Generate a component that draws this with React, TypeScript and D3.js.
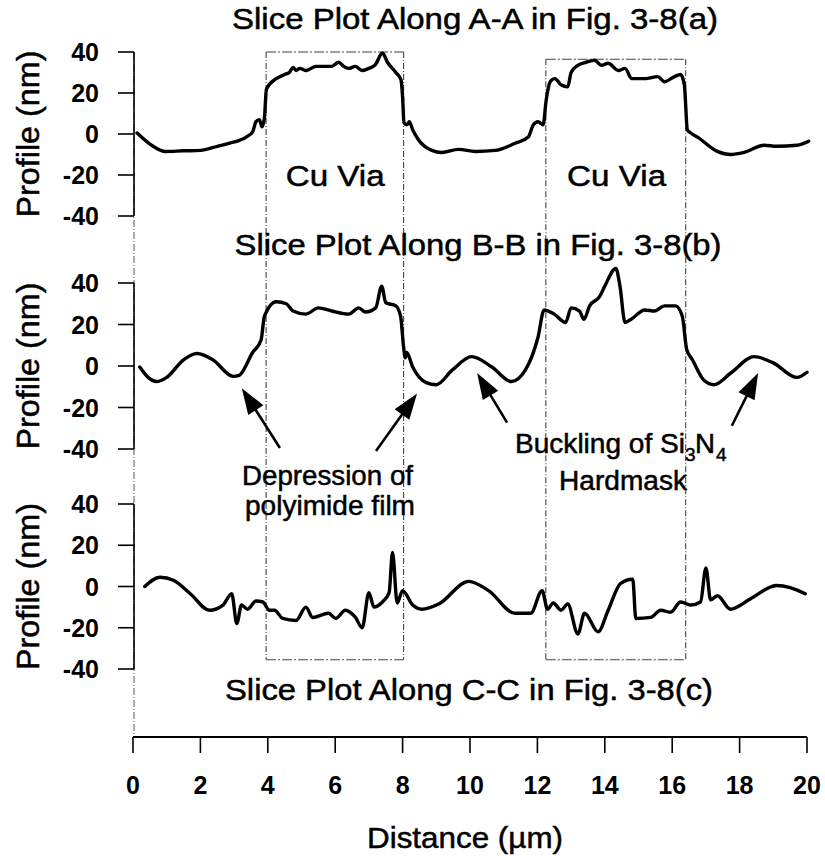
import * as d3 from "d3";

// x in µm, y in nm
const profileA: [number, number][] = [
  [0.12, 0.5], [0.6, -6], [0.95, -8.5], [1.5, -8.2], [2.0, -8], [2.5, -6], [2.87, -4.5], [3.36, -1.5],
  [3.55, 1], [3.65, 6], [3.75, 7], [3.83, 3.5], [3.9, 8], [3.96, 22], [4.25, 27], [4.5, 29], [4.64, 30],
  [4.75, 32.5], [4.84, 31], [4.95, 32], [5.14, 31], [5.43, 33], [5.9, 33], [6.1, 35], [6.25, 33],
  [6.4, 32], [6.6, 33], [6.8, 31], [7.0, 32], [7.2, 34], [7.4, 39.5], [7.55, 35], [7.8, 30],
  [7.95, 26.5], [8.0, 18], [8.04, 5.5], [8.13, 4.5], [8.2, 6], [8.3, 2], [8.48, -3], [8.87, -8],
  [9.16, -9], [9.66, -7.5], [10.16, -8.5], [10.75, -8], [11.34, -4.5], [11.73, -1.5], [11.88, 4.5],
  [12.02, 6], [12.17, 4.5], [12.26, 16.5], [12.38, 25.5], [12.52, 27], [12.7, 24], [12.9, 23],
  [13.0, 30], [13.2, 33.5], [13.45, 35], [13.7, 36], [13.9, 33.5], [14.1, 34.5], [14.4, 31],
  [14.6, 32], [14.8, 27], [15.2, 27], [15.57, 28], [15.77, 25.5], [16.07, 28], [16.25, 29],
  [16.36, 24], [16.45, 2], [16.55, 0.5], [16.75, -1.5], [17.34, -8.5], [17.73, -10], [18.13, -9],
  [18.73, -5.5], [19.1, -6], [19.7, -5.5], [20.05, -3.5],
];

const profileB: [number, number][] = [
  [0.2, -0.5], [0.45, -5.5], [0.7, -7.5], [1.0, -5.5], [1.5, 3], [1.9, 6], [2.37, 3], [2.97, -5],
  [3.15, -4.5], [3.55, 6.5], [3.8, 12.5], [3.9, 24], [4.25, 31], [4.55, 30], [4.75, 26.5], [5.13, 25],
  [5.5, 28], [5.9, 26.5], [6.4, 25], [6.7, 28], [6.9, 26], [7.2, 28], [7.38, 38.5], [7.5, 30.5],
  [7.8, 29], [7.94, 24], [8.03, 9], [8.08, 4], [8.12, 6.5], [8.3, -0.5], [8.7, -8], [9.0, -9],
  [9.47, -2], [10.05, 4.5], [10.65, -0.5], [11.23, -7.5], [11.64, -2], [12.02, 14], [12.2, 27],
  [12.5, 25], [12.84, 21], [13.0, 28], [13.25, 26.5], [13.38, 22.5], [13.55, 29], [13.85, 33.5],
  [14.0, 38.5], [14.33, 47], [14.45, 38.5], [14.6, 21], [14.78, 22.5], [15.18, 27], [15.48, 26.5],
  [15.77, 29], [16.1, 29], [16.3, 24], [16.43, 8], [16.6, 3], [16.95, -7], [17.24, -9], [17.73, -3.5],
  [18.43, 4.5], [19.0, 1.5], [19.7, -5.5], [20.0, -3],
];

const profileC: [number, number][] = [
  [0.35, 0], [0.8, 4.5], [1.2, 3], [1.7, -3.5], [2.27, -11.5], [2.67, -9], [2.93, -3.5], [3.08, -18],
  [3.22, -9], [3.4, -11], [3.65, -7], [3.85, -7.5], [4.05, -11.5], [4.2, -11.5], [4.44, -15.5],
  [4.84, -16.5], [5.13, -10], [5.33, -15], [5.8, -13], [6.02, -15.5], [6.3, -11.5], [6.6, -15],
  [6.8, -20], [7.0, -3], [7.15, -10], [7.4, -7.5], [7.6, -3], [7.7, 16.5], [7.84, -8], [8.0, -2],
  [8.3, -9], [8.57, -11], [9.07, -8.5], [9.96, 2.5], [10.55, -2], [11.34, -13], [11.8, -13],
  [12.14, -2], [12.3, -11], [12.47, -8], [12.7, -11.5], [12.9, -8.5], [13.2, -23], [13.4, -13],
  [13.8, -22], [14.1, -11.5], [14.47, 1.5], [14.83, 3.5], [14.92, -15.5], [15.36, -15], [15.66, -11.5],
  [15.95, -12.5], [16.25, -7.5], [16.55, -9], [16.84, -7.5], [17.0, 9], [17.14, -6.5], [17.34, -4.5],
  [17.73, -11], [18.32, -6], [19.1, 0.5], [19.5, -0.5], [19.95, -3.5],
];

const panelTitles = [
  "Slice Plot Along A-A in Fig. 3-8(a)",
  "Slice Plot Along B-B in Fig. 3-8(b)",
  "Slice Plot Along C-C in Fig. 3-8(c)",
];

const yTicks = [40, 20, 0, -20, -40];
const yTickLabels = ["40", "20", "0", "-20", "-40"];
const xTicks = [0, 2, 4, 6, 8, 10, 12, 14, 16, 18, 20];

// Cu via boxes: x range in µm, top in panel A nm, bottom in panel C nm
const viaBoxes = [
  { x0: 3.95, x1: 8.03, top: 40, bottom: -35.5 },
  { x0: 12.25, x1: 16.4, top: 36.5, bottom: -35.5 },
];
const viaLabelX = [6.0, 14.35];

// arrows in panel B units: [tailX, tailY, tipX, tipY]
const arrows: [number, number, number, number][] = [
  [4.36, -39.5, 3.23, -10.7],
  [7.21, -41, 8.43, -13.2],
  [11.1, -27.3, 10.21, -3.4],
  [17.77, -28.8, 18.55, -3.4],
];

const FONT = "'Liberation Sans', Arial, sans-serif";

export default function App() {
  const width = 825;
  const height = 856;
  const x = d3.scaleLinear().domain([0, 20]).range([133, 807]);
  const yA = d3.scaleLinear().domain([-40, 40]).range([216, 52]);
  const yB = d3.scaleLinear().domain([-40, 40]).range([449, 283]);
  const yC = d3.scaleLinear().domain([-40, 40]).range([669, 504]);
  const panels = [
    { y: yA, data: profileA },
    { y: yB, data: profileB },
    { y: yC, data: profileC },
  ];
  const spineX = x(0) + 1;
  const axisY = 737;

  const arrowHead = (tx: number, ty: number, tipX: number, tipY: number) => {
    const ang = Math.atan2(tipY - ty, tipX - tx);
    const len = 26;
    const half = 9;
    const bx = tipX - len * Math.cos(ang);
    const by = tipY - len * Math.sin(ang);
    const px = -Math.sin(ang) * half;
    const py = Math.cos(ang) * half;
    return `M${tipX},${tipY}L${bx + px},${by + py}L${bx - px},${by - py}Z`;
  };

  // scanned text looks a bit heavier than plain regular
  const txt = { fontFamily: FONT, stroke: "#000", strokeWidth: 0.5 };

  return (
    <div style={{ position: "absolute", left: 0, top: 0 }}>
      <svg width={width} height={height} style={{ display: "block", background: "#fff" }}>
        {/* full-height thin left line */}
        <line x1={spineX} x2={spineX} y1={52} y2={axisY} stroke="#555" strokeWidth={1} strokeDasharray="7,2,1,2" />

        {/* via boxes */}
        {viaBoxes.map((b, i) => {
          const l = x(b.x0), r = x(b.x1), t = yA(b.top), bt = yC(b.bottom);
          return (
            <g key={"box" + i} fill="none" stroke="#444" strokeWidth={1.1}>
              <line x1={l} x2={r} y1={t} y2={t} strokeDasharray="10,2,2,2" />
              <line x1={l} x2={r} y1={bt} y2={bt} strokeDasharray="10,2,2,2" />
              <line x1={l} x2={l} y1={t} y2={bt} strokeDasharray="6,2,1,2" />
              <line x1={r} x2={r} y1={t} y2={bt} strokeDasharray="6,2,1,2" />
            </g>
          );
        })}

        {panels.map((p, i) => {
          const line = d3
            .line<[number, number]>()
            .x((d) => x(d[0]))
            .y((d) => p.y(d[1]))
            .curve(d3.curveMonotoneX);
          const yMid = p.y(0);
          return (
            <g key={"panel" + i}>
              <line x1={spineX} x2={spineX} y1={p.y(40)} y2={p.y(-40)} stroke="#000" strokeWidth={1.6} />
              {yTicks.map((t, j) => (
                <g key={t}>
                  <line x1={spineX - 16} x2={spineX} y1={p.y(t)} y2={p.y(t)} stroke="#000" strokeWidth={1.6} />
                  <text x={99} y={p.y(t) + 9} textAnchor="end" fontFamily={FONT} fontWeight="bold" fontSize={25}>
                    {yTickLabels[j]}
                  </text>
                </g>
              ))}
              <text
                transform={`translate(39,${yMid}) rotate(-90)`}
                textAnchor="middle"
                {...txt}
                fontSize={31}
                textLength={167}
                lengthAdjust="spacingAndGlyphs"
              >
                Profile (nm)
              </text>
              <path d={line(p.data) ?? ""} fill="none" stroke="#000" strokeWidth={3.4} strokeLinejoin="round" strokeLinecap="round" />
            </g>
          );
        })}

        {/* panel titles */}
        <text x={475} y={29} textAnchor="middle" {...txt} fontSize={29} textLength={486} lengthAdjust="spacingAndGlyphs">
          {panelTitles[0]}
        </text>
        <text x={478} y={255} textAnchor="middle" {...txt} fontSize={29} textLength={487} lengthAdjust="spacingAndGlyphs">
          {panelTitles[1]}
        </text>
        <text x={469} y={700} textAnchor="middle" {...txt} fontSize={30} textLength={488} lengthAdjust="spacingAndGlyphs">
          {panelTitles[2]}
        </text>

        {/* Cu Via labels */}
        {viaLabelX.map((v, i) => (
          <text key={"cu" + i} x={x(v)} y={186} textAnchor="middle" {...txt} fontSize={29} textLength={99} lengthAdjust="spacingAndGlyphs">
            Cu Via
          </text>
        ))}

        {/* arrows */}
        {arrows.map((a, i) => {
          const tx = x(a[0]), ty = yB(a[1]), hx = x(a[2]), hy = yB(a[3]);
          const ang = Math.atan2(hy - ty, hx - tx);
          const ex = hx - 20 * Math.cos(ang), ey = hy - 20 * Math.sin(ang);
          return (
            <g key={"arr" + i}>
              <line x1={tx} y1={ty} x2={ex} y2={ey} stroke="#000" strokeWidth={2.6} />
              <path d={arrowHead(tx, ty, hx, hy)} fill="#000" />
            </g>
          );
        })}

        {/* annotations */}
        <g {...txt} fontSize={27}>
          <text x={242} y={485} textLength={171} lengthAdjust="spacingAndGlyphs">Depression of</text>
          <text x={245} y={515} textLength={170} lengthAdjust="spacingAndGlyphs">polyimide film</text>
          <text x={515} y={453} textLength={170} lengthAdjust="spacingAndGlyphs">Buckling of Si</text>
          <text x={685} y={461} fontSize={19}>3</text>
          <text x={695} y={453} textLength={20} lengthAdjust="spacingAndGlyphs">N</text>
          <text x={716} y={461} fontSize={19}>4</text>
          <text x={559} y={490} textLength={128} lengthAdjust="spacingAndGlyphs">Hardmask</text>
        </g>

        {/* x axis */}
        <line x1={x(0)} x2={x(20)} y1={axisY} y2={axisY} stroke="#000" strokeWidth={2} />
        {xTicks.map((t) => (
          <g key={"xt" + t}>
            <line x1={x(t)} x2={x(t)} y1={axisY} y2={axisY + 16} stroke="#000" strokeWidth={1.6} />
            <text x={x(t)} y={794} textAnchor="middle" fontFamily={FONT} fontWeight="bold" fontSize={25}>
              {t}
            </text>
          </g>
        ))}
        <text x={465} y={848} textAnchor="middle" {...txt} fontSize={30} textLength={196} lengthAdjust="spacingAndGlyphs">
          Distance (µm)
        </text>
      </svg>
    </div>
  );
}
